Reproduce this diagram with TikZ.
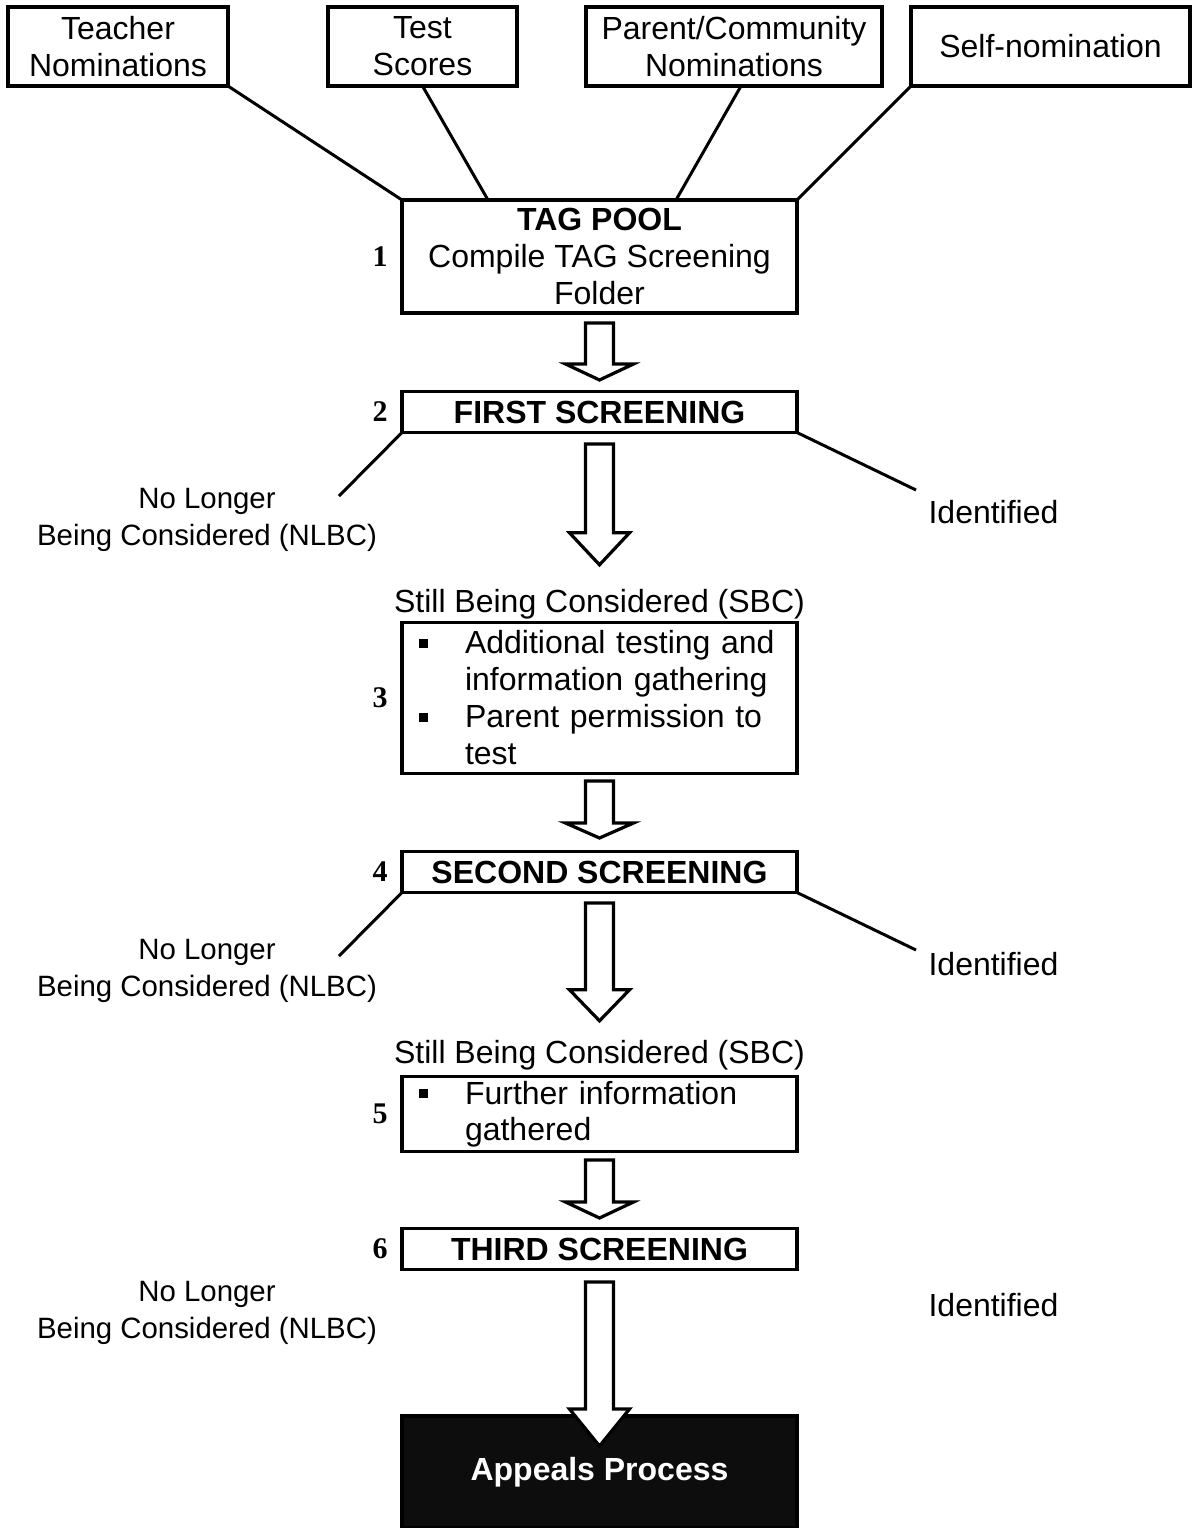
\documentclass[tikz,border=0pt]{standalone}
\usepackage{fontspec}
\setmainfont{Liberation Sans}
\newfontfamily\numfont{Liberation Serif}
\usepackage{tikz}
\usetikzlibrary{positioning,calc}
\definecolor{appealfill}{HTML}{0D0D0D}
\newcommand{\bul}{\makebox[31.5pt][l]{\hspace*{8.5pt}\raisebox{3.2pt}{\rule{4.4pt}{4.4pt}}}}
\newcommand{\ind}{\hspace*{31.5pt}}
% from, to, gap under from, tip above to, head length, head half width
\newcommand{\bigarrow}[6]{%
  \draw[hollow] ($(#1.south)+(-14,#3)$) -- ($(#2.north)+(-14,{-(#4)-(#5)})$)
    -- ++({14-(#6)},0) -- ($(#2.north)+(0,{-(#4)})$)
    -- ($(#2.north)+(#6,{-(#4)-(#5)})$) -- ++({14-(#6)},0)
    -- ($(#1.south)+(14,#3)$) -- cycle;}

\begin{document}
\begin{tikzpicture}[
  x=0.5pt, y=-0.5pt,
  txt/.style={font=\fontsize{16pt}{18.5pt}\selectfont},
  srcbox/.style={txt, draw, line width=1.8pt, minimum height=39.5pt,
                 align=center, inner sep=0pt, outer sep=0pt},
  stepbox/.style={txt, draw, line width=1.8pt, minimum width=197.5pt,
                  align=center, inner sep=2pt, outer sep=0pt},
  headbox/.style={stepbox, font=\fontsize{16pt}{18.5pt}\selectfont\bfseries,
                  minimum height=20.5pt},
  listbox/.style={align=left, text width=197.5pt, inner xsep=0pt},
  note/.style={txt, inner sep=0pt, align=center},
  outnote/.style={note, font=\fontsize{14.7pt}{18.5pt}\selectfont},
  num/.style={font=\numfont\bfseries\fontsize{15pt}{16pt}\selectfont, inner sep=0pt},
  link/.style={line width=1.5pt},
  hollow/.style={draw, fill=white, line width=1.6pt, line join=miter}
]
\useasboundingbox (0,0) rectangle (1192,1528);

\node[srcbox, minimum width=110pt]   (teacher) at (118,46.5)    {Teacher\\Nominations};
\node[srcbox, minimum width=94.5pt]  (test)    at (422.5,46.5)  {Test\\Scores};
\node[srcbox, minimum width=148pt]   (parent)  at (734,46.5)    {Parent/Community\\Nominations};
\node[srcbox, minimum width=139.5pt] (self)    at (1050.5,46.5) {Self-nomination};

\node[stepbox, minimum height=56.5pt] (pool) at (599.5,256.5)
  {\textbf{TAG POOL}\\Compile TAG Screening\\Folder};
\node[headbox] (first) at (599.5,412) {FIRST SCREENING};
\node[note, anchor=base] (sbca) at (599.5,612) {Still Being Considered (SBC)};
\node[stepbox, listbox, minimum height=75.5pt] (gather) at (599.5,698)
  {\bul Additional testing and\\ \ind information gathering\\ \bul Parent permission to\\ \ind test};
\node[headbox] (second) at (599.5,872) {SECOND SCREENING};
\node[note, anchor=base] (sbcb) at (599.5,1063) {Still Being Considered (SBC)};
\node[stepbox, listbox, minimum height=37.5pt,
      font=\fontsize{16pt}{18pt}\selectfont] (further) at (599.5,1114)
  {\bul Further information\\ \ind gathered};
\node[headbox] (third) at (599.5,1249) {THIRD SCREENING};
\node[headbox, fill=appealfill, text=white, minimum height=56pt] (appeals) at (599.5,1472) {Appeals Process};

\node[num, left=7pt of pool]    (n1) {1};
\node[num, left=7pt of first]   (n2) {2};
\node[num, left=7pt of gather]  (n3) {3};
\node[num, left=7pt of second]  (n4) {4};
\node[num, left=7pt of further] (n5) {5};
\node[num, left=7pt of third]   (n6) {6};

\node[outnote] (nlbca) at (207,519.5)  {No Longer\\Being Considered (NLBC)};
\node[outnote] (nlbcb) at (207,970.5)  {No Longer\\Being Considered (NLBC)};
\node[outnote] (nlbcc) at (207,1312.5) {No Longer\\Being Considered (NLBC)};
\node[note] (ida) at (993.5,512.5)  {Identified};
\node[note] (idb) at (993.5,964.5)  {Identified};
\node[note] (idc) at (993.5,1305.5) {Identified};

\coordinate (la) at (339,496);
\coordinate (ra) at (916,490);
\coordinate (lb) at (339,956);
\coordinate (rb) at (916,950);

\draw[link] (teacher.south east) -- (pool.north west);
\draw[link] (test.south) -- ([xshift=-55.75pt]pool.north);
\draw[link] ([xshift=3.5pt]parent.south) -- ([xshift=38.25pt]pool.north);
\draw[link] (self.south west) -- (pool.north east);
\draw[link] (first.south west) -- (la);
\draw[link] (first.south east) -- (ra);
\draw[link] (second.south west) -- (lb);
\draw[link] (second.south east) -- (rb);

\bigarrow{pool}{first}{10}{11.5}{16}{34}
\bigarrow{first}{sbca}{11.5}{23.6}{32}{30}
\bigarrow{gather}{second}{7.5}{13.5}{15}{34}
\bigarrow{second}{sbcb}{10.5}{18.6}{31}{30}
\bigarrow{further}{third}{8.5}{10.5}{16}{34}
\bigarrow{third}{appeals}{12.5}{-30}{37}{30}
\end{tikzpicture}
\end{document}
